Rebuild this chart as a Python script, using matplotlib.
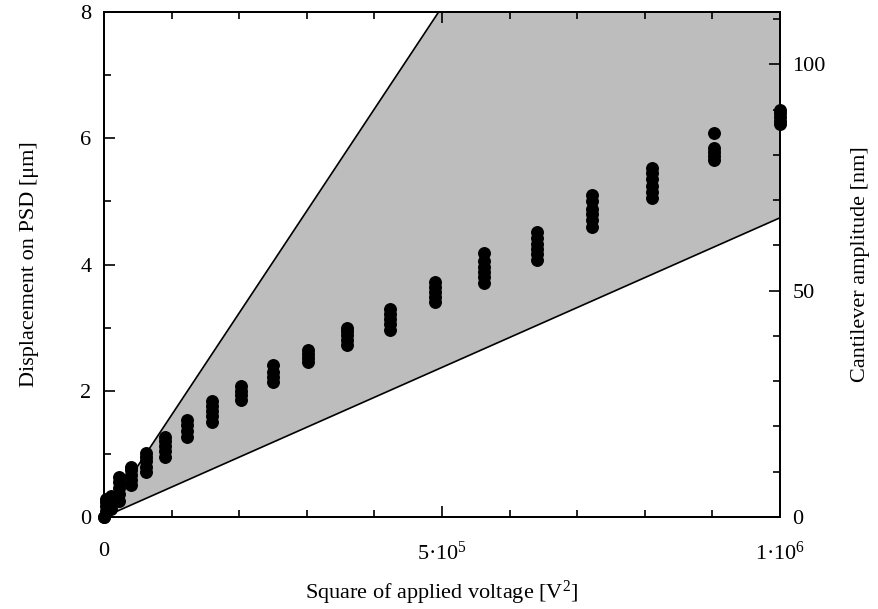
import numpy as np
import matplotlib
matplotlib.use("Agg")
import matplotlib.pyplot as plt
from matplotlib.ticker import MultipleLocator, FixedLocator

plt.rcParams['font.family'] = ['Liberation Serif', 'DejaVu Serif']
plt.rcParams['mathtext.fontset'] = 'custom'
plt.rcParams['mathtext.rm'] = 'Liberation Serif'
plt.rcParams['mathtext.it'] = 'Liberation Serif:italic'

# applied voltages [V] and measured displacement on PSD [um] for each one
voltages = [0, 50, 100, 150, 200, 250, 300, 350, 400, 450, 500,
            550, 600, 650, 700, 750, 800, 850, 900, 950, 1000]
displacement = [
    [0.0, 0.0],
    [0.10, 0.17, 0.23, 0.28],
    [0.12, 0.19, 0.26, 0.34],
    [0.26, 0.36, 0.46, 0.55, 0.64],
    [0.50, 0.58, 0.66, 0.74, 0.80],
    [0.72, 0.80, 0.88, 0.95, 1.01],
    [0.95, 1.04, 1.12, 1.20, 1.26],
    [1.27, 1.36, 1.45, 1.53],
    [1.51, 1.60, 1.68, 1.76, 1.83],
    [1.86, 1.93, 2.00, 2.08],
    [2.14, 2.22, 2.30, 2.41],
    [2.45, 2.52, 2.58, 2.64],
    [2.72, 2.80, 2.88, 2.95, 2.99],
    [2.97, 3.05, 3.13, 3.21, 3.29],
    [3.40, 3.48, 3.56, 3.64, 3.72],
    [3.70, 3.80, 3.88, 3.96, 4.05, 4.18],
    [4.07, 4.16, 4.25, 4.33, 4.42, 4.52],
    [4.60, 4.70, 4.80, 4.88, 5.00, 5.10],
    [5.06, 5.15, 5.25, 5.35, 5.45, 5.53],
    [5.66, 5.72, 5.78, 5.85, 6.09],
    [6.22, 6.28, 6.34, 6.40, 6.44],
]

# bounds of the shaded region (um per V^2)
slope_hi = 8 / 4.95e5
slope_lo = 4.74e-6
nm_per_um = 13.95
xmax = 1e6
ymax = 8

xs, ys = [], []
for v, d in zip(voltages, displacement):
    for val in d:
        xs.append(v ** 2)
        ys.append(val)

fig = plt.figure(figsize=(8.79, 6.09), dpi=100)
ax = fig.add_axes([104/879, 1 - 517/609, 676/879, 505/609])

xl = np.array([0, xmax])
ax.fill_between(xl, slope_lo * xl, slope_hi * xl, color='#bdbdbd', lw=0, zorder=1)
ax.plot(xl, slope_hi * xl, color='black', lw=1.2, zorder=2)
ax.plot(xl, slope_lo * xl, color='black', lw=1.2, zorder=2)
ax.plot(xs, ys, 'o', color='black', ms=8.3, zorder=3, clip_on=False)

ax.set_xlim(0, xmax)
ax.set_ylim(0, ymax)
ax.xaxis.set_major_locator(FixedLocator([0, 5e5, 1e6]))
ax.xaxis.set_minor_locator(MultipleLocator(1e5))
ax.set_xticklabels(['0', '5\u00b710$^{5}$', '1\u00b710$^{6}$'])
ax.yaxis.set_major_locator(MultipleLocator(2))
ax.yaxis.set_minor_locator(MultipleLocator(1))
ax.tick_params(which='both', direction='in', top=True, right=False,
               labelsize=16, width=1.2)
ax.tick_params(axis='x', which='both', pad=18)
ax.tick_params(axis='y', which='both', pad=9)
ax.tick_params(which='major', length=8)
ax.tick_params(which='minor', length=5)
for s in ax.spines.values():
    s.set_linewidth(1.4)

ax.set_xlabel('Square of applied voltage [V$^{2}$]', fontsize=16, labelpad=10)
ax.set_ylabel('Displacement on PSD [\u03bcm]', fontsize=16, labelpad=30)

ax2 = ax.twinx()
ax2.set_ylim(0, ymax * nm_per_um)
ax2.yaxis.set_major_locator(MultipleLocator(50))
ax2.yaxis.set_minor_locator(MultipleLocator(10))
ax2.tick_params(which='both', direction='in', labelsize=16, width=1.2, pad=9)
ax2.tick_params(which='major', length=8)
ax2.tick_params(which='minor', length=5)
ax2.set_ylabel('Cantilever amplitude [nm]', fontsize=16, labelpad=18)
for s in ax2.spines.values():
    s.set_linewidth(1.4)

fig.savefig('out.png', dpi=100)
